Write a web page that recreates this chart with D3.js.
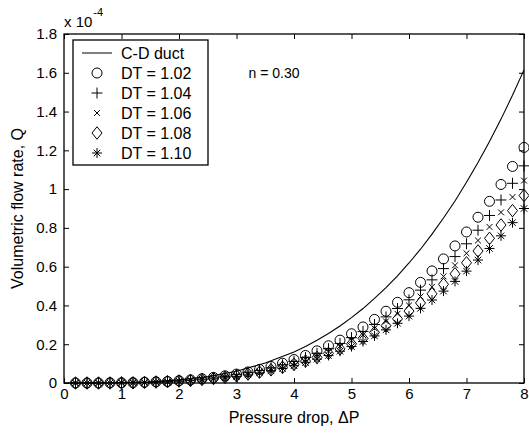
<!DOCTYPE html>
<html>
<head>
<meta charset="utf-8">
<script src="https://cdnjs.cloudflare.com/ajax/libs/d3/7.8.5/d3.min.js"></script>
<style>
  body { margin: 0; background: #fff; }
  svg text { font-family: "Liberation Sans", Arial, sans-serif; fill: #000; }
</style>
</head>
<body>
<div id="chart"></div>
<script>
// pressure drop where the markers sit
var dp = [0.2, 0.4, 0.6, 0.8, 1.0, 1.2, 1.4, 1.6, 1.8, 2.0,
          2.2, 2.4, 2.6, 2.8, 3.0, 3.2, 3.4, 3.6, 3.8, 4.0,
          4.2, 4.4, 4.6, 4.8, 5.0, 5.2, 5.4, 5.6, 5.8, 6.0,
          6.2, 6.4, 6.6, 6.8, 7.0, 7.2, 7.4, 7.6, 7.8, 8.0];

// flow rate, in units of 1e-4
var q102 = [0.000, 0.000, 0.000, 0.001, 0.001, 0.002, 0.004, 0.006, 0.008, 0.012,
            0.016, 0.022, 0.029, 0.037, 0.046, 0.057, 0.070, 0.085, 0.102, 0.121,
            0.142, 0.166, 0.192, 0.221, 0.254, 0.289, 0.328, 0.370, 0.416, 0.466,
            0.519, 0.578, 0.640, 0.707, 0.779, 0.855, 0.937, 1.024, 1.117, 1.215];
var q104 = [0.000, 0.000, 0.000, 0.001, 0.001, 0.002, 0.003, 0.005, 0.008, 0.011,
            0.015, 0.020, 0.026, 0.034, 0.043, 0.053, 0.065, 0.078, 0.094, 0.111,
            0.131, 0.153, 0.177, 0.204, 0.234, 0.266, 0.302, 0.341, 0.384, 0.429,
            0.479, 0.532, 0.590, 0.652, 0.718, 0.788, 0.864, 0.944, 1.030, 1.120];
var q106 = [0.000, 0.000, 0.000, 0.000, 0.001, 0.002, 0.003, 0.005, 0.007, 0.010,
            0.014, 0.019, 0.025, 0.032, 0.040, 0.049, 0.060, 0.073, 0.087, 0.104,
            0.122, 0.142, 0.165, 0.190, 0.218, 0.248, 0.282, 0.318, 0.357, 0.400,
            0.446, 0.496, 0.550, 0.607, 0.669, 0.735, 0.805, 0.880, 0.959, 1.044];
var q108 = [0.000, 0.000, 0.000, 0.000, 0.001, 0.001, 0.003, 0.005, 0.007, 0.010,
            0.013, 0.018, 0.023, 0.029, 0.037, 0.046, 0.056, 0.068, 0.081, 0.096,
            0.113, 0.132, 0.153, 0.176, 0.202, 0.230, 0.261, 0.295, 0.331, 0.371,
            0.413, 0.460, 0.509, 0.563, 0.620, 0.681, 0.746, 0.815, 0.889, 0.967];
var q110 = [0.000, 0.000, 0.000, 0.000, 0.001, 0.001, 0.002, 0.004, 0.005, 0.009,
            0.012, 0.016, 0.021, 0.027, 0.034, 0.042, 0.052, 0.063, 0.075, 0.089,
            0.105, 0.123, 0.142, 0.164, 0.188, 0.214, 0.243, 0.274, 0.308, 0.345,
            0.385, 0.428, 0.474, 0.524, 0.577, 0.634, 0.694, 0.759, 0.827, 0.900];

// C-D duct curve
var dpDuct = [0, 0.5, 1.0, 1.5, 2.0, 2.5, 3.0, 3.5, 4.0,
              4.2, 4.4, 4.6, 4.8, 5.0, 5.2, 5.4, 5.6, 5.8, 6.0,
              6.2, 6.4, 6.6, 6.8, 7.0, 7.2, 7.4, 7.6, 7.8, 8.0];
var qDuct = [0, 0.000, 0.002, 0.006, 0.016, 0.033, 0.061, 0.103, 0.160,
             0.188, 0.220, 0.255, 0.294, 0.337, 0.384, 0.436, 0.492, 0.553, 0.619,
             0.690, 0.768, 0.851, 0.939, 1.035, 1.137, 1.245, 1.361, 1.484, 1.615];

var xTicks = [0, 1, 2, 3, 4, 5, 6, 7, 8];
var yTicks = [0, 0.2, 0.4, 0.6, 0.8, 1, 1.2, 1.4, 1.6, 1.8];

var seriesNames = ["DT = 1.02", "DT = 1.04", "DT = 1.06", "DT = 1.08", "DT = 1.10"];
var seriesMarks = ["circle", "plus", "cross", "diamond", "star"];
var seriesValues = [q102, q104, q106, q108, q110];

// set the dimensions and margins of the graph
var margin = {top: 34, right: 5, bottom: 52, left: 64},
    width = 529 - margin.left - margin.right,
    height = 435 - margin.top - margin.bottom;

var svg = d3.select("#chart")
  .append("svg")
    .attr("width", width + margin.left + margin.right)
    .attr("height", height + margin.top + margin.bottom)
  .append("g")
    .attr("transform", "translate(" + margin.left + "," + margin.top + ")");

var x = d3.scaleLinear().domain([0, 8]).range([0, width]);
var y = d3.scaleLinear().domain([0, 1.8]).range([height, 0]);

// axes, ticks pointing inwards like matlab
svg.append("g")
  .attr("class", "axis")
  .attr("transform", "translate(0," + height + ")")
  .call(d3.axisBottom(x).tickValues(xTicks).tickSizeInner(-5).tickSizeOuter(0).tickPadding(5).tickFormat(d3.format("~g")));
svg.append("g")
  .attr("class", "axis")
  .call(d3.axisTop(x).tickValues(xTicks).tickSizeInner(-5).tickSizeOuter(0).tickFormat(""));
svg.append("g")
  .attr("class", "axis")
  .call(d3.axisLeft(y).tickValues(yTicks).tickSizeInner(-5).tickSizeOuter(0).tickPadding(7).tickFormat(d3.format("~g")));
svg.append("g")
  .attr("class", "axis")
  .attr("transform", "translate(" + width + ",0)")
  .call(d3.axisRight(y).tickValues(yTicks).tickSizeInner(-5).tickSizeOuter(0).tickFormat(""));

svg.selectAll(".axis .domain").remove();
svg.selectAll(".axis line").attr("stroke", "#000");
svg.selectAll(".axis text")
  .style("font-family", "Liberation Sans, Arial, sans-serif")
  .style("font-size", "15px")
  .attr("fill", "#000");

svg.append("rect")
  .attr("width", width)
  .attr("height", height)
  .attr("fill", "none")
  .attr("stroke", "#000")
  .attr("stroke-width", 1.3);

// exponent label
var expo = svg.append("text")
  .attr("x", 0)
  .attr("y", -7)
  .style("font-size", "15px");
expo.append("tspan").text("x 10");
expo.append("tspan").attr("dy", -11).attr("dx", 1).style("font-size", "11px").text("-4");

// axis labels
svg.append("text")
  .attr("text-anchor", "middle")
  .attr("x", width / 2)
  .attr("y", height + 40)
  .style("font-size", "16px")
  .text("Pressure drop, \u0394P");

svg.append("text")
  .attr("text-anchor", "middle")
  .attr("transform", "rotate(-90)")
  .attr("x", -(height / 2) + 0)
  .attr("y", -41)
  .style("font-size", "16px")
  .text("Volumetric flow rate, Q");

svg.append("text")
  .attr("x", x(3.21))
  .attr("y", y(1.6) + 5)
  .style("font-size", "14px")
  .text("n = 0.30");

// marker shapes
function markPath(kind, r) {
  var s = r * 0.65;
  if (kind == "circle") return "M" + r + ",0A" + r + "," + r + " 0 1,1 " + (-r) + ",0A" + r + "," + r + " 0 1,1 " + r + ",0Z";
  if (kind == "plus") return "M" + (-r) + ",0H" + r + "M0," + (-r) + "V" + r;
  if (kind == "cross") return "M" + (-s) + "," + (-s) + "L" + s + "," + s + "M" + (-s) + "," + s + "L" + s + "," + (-s);
  if (kind == "diamond") return "M0," + (-r * 1.25) + "L" + r + ",0L0," + (r * 1.25) + "L" + (-r) + ",0Z";
  // asterisk
  return "M" + (-r) + ",0H" + r + "M0," + (-r) + "V" + r +
         "M" + (-s) + "," + (-s) + "L" + s + "," + s + "M" + (-s) + "," + s + "L" + s + "," + (-s);
}
var markSize = {circle: 5, plus: 5.5, cross: 4.5, diamond: 5, star: 5};

// C-D duct line
var line = d3.line()
  .x(function(d, i) { return x(dpDuct[i]); })
  .y(function(d) { return y(d); });
svg.append("path")
  .datum(qDuct)
  .attr("d", line)
  .attr("fill", "none")
  .attr("stroke", "#000")
  .attr("stroke-width", 1.1);

// scatter series
seriesValues.forEach(function(vals, k) {
  svg.append("g")
    .selectAll("path")
    .data(vals)
    .enter()
    .append("path")
      .attr("transform", function(d, i) { return "translate(" + x(dp[i]) + "," + y(d) + ")"; })
      .attr("d", markPath(seriesMarks[k], markSize[seriesMarks[k]]))
      .attr("fill", "none")
      .attr("stroke", "#000")
      .attr("stroke-width", 1);
});

// legend
var legend = svg.append("g").attr("transform", "translate(9,6)");
legend.append("rect")
  .attr("width", 135)
  .attr("height", 125)
  .attr("fill", "#fff")
  .attr("stroke", "#000")
  .attr("stroke-width", 1.3);
legend.append("line")
  .attr("x1", 9).attr("x2", 39)
  .attr("y1", 13).attr("y2", 13)
  .attr("stroke", "#000");
legend.append("text")
  .attr("x", 48).attr("y", 13).attr("dy", "0.35em")
  .style("font-size", "16px")
  .text("C-D duct");
seriesNames.forEach(function(name, k) {
  var ly = 33 + k * 20;
  legend.append("path")
    .attr("transform", "translate(24," + ly + ")")
    .attr("d", markPath(seriesMarks[k], markSize[seriesMarks[k]]))
    .attr("fill", "none")
    .attr("stroke", "#000")
    .attr("stroke-width", 1);
  legend.append("text")
    .attr("x", 48).attr("y", ly).attr("dy", "0.35em")
    .style("font-size", "16px")
    .text(name);
});
</script>
</body>
</html>
